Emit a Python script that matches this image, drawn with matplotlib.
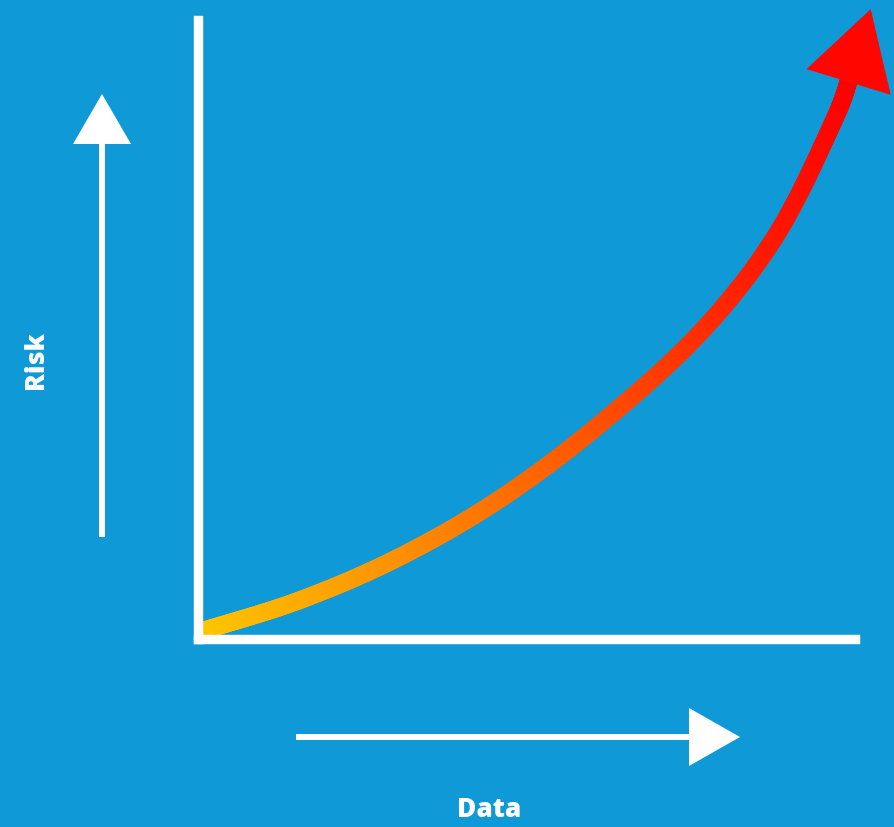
import numpy as np
import matplotlib
matplotlib.use('Agg')
import matplotlib.pyplot as plt
from matplotlib.collections import LineCollection
from matplotlib.colors import LinearSegmentedColormap
from matplotlib.patches import Polygon, Rectangle

# data: amount of data (x) vs risk (y), both in 0..100 axis units
data_x = [0.0, 15.5, 30.7, 46.0, 61.2, 76.4, 88.0, 96.8, 99.6]
risk_y = [1.0, 6.2, 13.2, 22.6, 34.7, 49.4, 65.2, 83.8, 92.0]
x_label = "Data"
y_label = "Risk"

BG = '#0f99d6'
WHITE = '#ffffff'
grad = LinearSegmentedColormap.from_list('risk', [
    (0.00, '#ffc800'), (0.15, '#ffad00'), (0.30, '#ff9300'),
    (0.45, '#ff7400'), (0.60, '#ff5500'), (0.75, '#ff3300'),
    (0.88, '#ff1800'), (1.00, '#ff0000')])

W, H = 894, 827
fig = plt.figure(figsize=(W / 100, H / 100), dpi=100, facecolor=BG)

# background layer in pixel units (decorative arrows + labels)
bg = fig.add_axes([0, 0, 1, 1])
bg.set_xlim(0, W)
bg.set_ylim(H, 0)
bg.axis('off')
bg.set_facecolor(BG)

# up arrow (risk)
bg.plot([102, 102], [537, 140], color=WHITE, lw=4.3, solid_capstyle='butt')
bg.add_patch(Polygon([[73, 144], [131, 144], [102, 94]], closed=True,
                     color=WHITE, lw=0))
# right arrow (data)
bg.plot([296, 692], [737, 737], color=WHITE, lw=4.3, solid_capstyle='butt')
bg.add_patch(Polygon([[689, 708], [689, 766], [740, 737]], closed=True,
                     color=WHITE, lw=0))

font = ['Open Sans', 'DejaVu Sans']
bg.text(36, 360, y_label, rotation=90, ha='center', va='center', color=WHITE,
        fontsize=19, fontweight=800, family=font)
bg.text(489, 810, x_label, ha='center', va='center', color=WHITE,
        fontsize=19, fontweight=800, family=font)

# main chart axes
ax = fig.add_axes([198 / W, (H - 638.5) / H, (855 - 198) / W, (638.5 - 20) / H])
ax.set_facecolor('none')
ax.set_xlim(0, 100)
ax.set_ylim(0, 100)
ax.set_xticks([])
ax.set_yticks([])
for side in ['top', 'right']:
    ax.spines[side].set_visible(False)
for side in ['left', 'bottom']:
    ax.spines[side].set_color(WHITE)
    ax.spines[side].set_linewidth(6.8)
    ax.spines[side].set_capstyle('projecting')
    ax.spines[side].set_zorder(5)

# Catmull-Rom through the points (drawing only)
P = np.column_stack([data_x, risk_y])
ext = np.vstack([2 * P[0] - P[1], P, 2 * P[-1] - P[-2]])
t = np.linspace(0, 1, 40, endpoint=False)[:, None]
curve = []
for i in range(1, len(ext) - 2):
    p0, p1, p2, p3 = ext[i - 1], ext[i], ext[i + 1], ext[i + 2]
    c = 0.5 * ((2 * p1) + (-p0 + p2) * t + (2 * p0 - 5 * p1 + 4 * p2 - p3) * t ** 2
               + (-p0 + 3 * p1 - 3 * p2 + p3) * t ** 3)
    curve.append(c)
curve.append(P[-1:])
curve = np.vstack(curve)
xs, ys = curve[:, 0], curve[:, 1]

pts = curve.reshape(-1, 1, 2)
segs = np.concatenate([pts[:-1], pts[1:]], axis=1)
lc = LineCollection(segs, cmap=grad, linewidths=12.8, capstyle='round', zorder=3)
lc.set_array((xs[:-1] - xs.min()) / (xs.max() - xs.min()))
lc.set_clim(0, 1)
ax.add_collection(lc)
clip = Rectangle((0, -5), 120, 120, transform=ax.transData)
lc.set_clip_path(clip)

# arrow head at the end of the curve, built in display space
fig.canvas.draw()
q0 = ax.transData.transform((data_x[-2], risk_y[-2]))
q1 = ax.transData.transform((data_x[-1], risk_y[-1]))
d = (q1 - q0) / np.hypot(*(q1 - q0))
turn = np.radians(3)
d = np.array([d[0] * np.cos(turn) - d[1] * np.sin(turn),
              d[0] * np.sin(turn) + d[1] * np.cos(turn)])
n = np.array([-d[1], d[0]])
base = q1 - d * 13
tip = base + d * 76
head = [base + n * 44, base - n * 44, tip]
ax.add_patch(Polygon(head, closed=True, transform=None, color='#ff0600',
                     lw=0, zorder=4, clip_on=False))

fig.savefig('out.png', dpi=100, facecolor=BG)
